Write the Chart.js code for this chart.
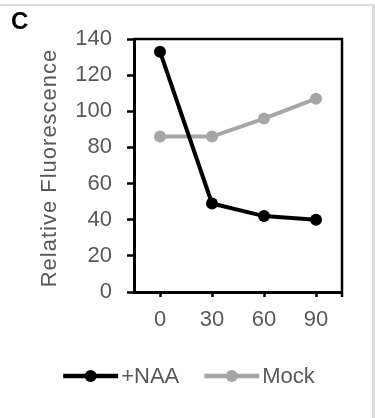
<!DOCTYPE html>
<html>
<head>
<meta charset="utf-8">
<script src="https://cdn.jsdelivr.net/npm/chart.js@4"></script>
<style>
  html, body { margin: 0; padding: 0; background: #fff; }
  #wrap { width: 375px; height: 418px; position: relative; }
</style>
</head>
<body>
<div id="wrap"><canvas id="chart" width="375" height="418"></canvas></div>
<script>
"use strict";

// time points (min)
const timePoints = ["0", "30", "60", "90"];
const naaValues = [133, 49, 42, 40];
const mockValues = [86, 86, 96, 107];
const yTicks = [0, 20, 40, 60, 80, 100, 120, 140];
const yTitle = "Relative Fluorescence";

const textGray = "#595959";
const seriesGray = "#a6a6a6";
const font = "Liberation Sans, Arial, sans-serif";

// frame, panel letter, axis title, box border and legend drawn by hand
const decorations = {
  id: "decorations",
  beforeDraw(chart) {
    const ctx = chart.ctx;
    ctx.save();
    ctx.fillStyle = "#dddddd";
    ctx.fillRect(0, 4, 375, 2);
    ctx.fillRect(372, 4, 3, 414);
    ctx.restore();
  },
  afterDraw(chart) {
    const ctx = chart.ctx;
    const a = chart.chartArea;
    ctx.save();

    // top + right of plot box
    ctx.strokeStyle = "#000";
    ctx.lineWidth = 2.5;
    ctx.beginPath();
    ctx.moveTo(a.left, a.top);
    ctx.lineTo(a.right, a.top);
    ctx.lineTo(a.right, a.bottom + 5);
    ctx.stroke();

    // panel letter
    ctx.fillStyle = "#000";
    ctx.font = "bold 24px " + font;
    ctx.textBaseline = "alphabetic";
    ctx.fillText("C", 11, 29);

    // y axis title (a bit spaced out, like the original)
    ctx.save();
    ctx.translate(50, 168);
    ctx.rotate(-Math.PI / 2);
    ctx.font = "22px " + font;
    ctx.letterSpacing = "1px";
    ctx.fillStyle = textGray;
    ctx.textAlign = "center";
    ctx.textBaseline = "middle";
    ctx.fillText(yTitle, 0, 0);
    ctx.restore();

    // legend
    ctx.font = "22px " + font;
    ctx.textBaseline = "middle";
    const sets = chart.data.datasets;
    const symW = 55, gapText = 3, gapItem = 25;
    let total = 0;
    sets.forEach((ds, i) => {
      total += symW + gapText + ctx.measureText(ds.label).width;
      if (i < sets.length - 1) total += gapItem;
    });
    let x = 189 - total / 2;
    const y = 376;
    sets.forEach(ds => {
      ctx.strokeStyle = ds.borderColor;
      ctx.lineWidth = 4.5;
      ctx.beginPath();
      ctx.moveTo(x, y);
      ctx.lineTo(x + symW, y);
      ctx.stroke();
      ctx.fillStyle = ds.borderColor;
      ctx.beginPath();
      ctx.arc(x + symW / 2, y, 6, 0, Math.PI * 2);
      ctx.fill();
      ctx.fillStyle = textGray;
      ctx.fillText(ds.label, x + symW + gapText, y + 1);
      x += symW + gapText + ctx.measureText(ds.label).width + gapItem;
    });
    ctx.restore();
  }
};

const ctx = document.getElementById("chart").getContext("2d");
new Chart(ctx, {
  type: "line",
  data: {
    labels: timePoints,
    datasets: [
      {
        label: "+NAA",
        data: naaValues,
        borderColor: "#000000",
        backgroundColor: "#000000",
        borderWidth: 4,
        pointRadius: 6,
        pointBorderWidth: 0,
        tension: 0,
      },
      {
        label: "Mock",
        data: mockValues,
        borderColor: seriesGray,
        backgroundColor: seriesGray,
        borderWidth: 4,
        pointRadius: 6,
        pointBorderWidth: 0,
        tension: 0,
      },
    ],
  },
  options: {
    responsive: false,
    animation: false,
    layout: { padding: { left: 0, right: 33, top: 39, bottom: 0 } },
    plugins: {
      legend: { display: false },
      tooltip: { enabled: false },
    },
    scales: {
      x: {
        type: "category",
        offset: true,
        afterFit: s => { s.height = 126; },
        grid: {
          offset: false,
          drawOnChartArea: false,
          tickLength: 5,
          tickColor: "#000",
          tickWidth: 2.5,
        },
        border: { color: "#000", width: 3 },
        ticks: { color: textGray, font: { family: font, size: 22 }, padding: 10 },
      },
      y: {
        min: 0,
        max: 140,
        afterFit: s => { s.width = 134; },
        afterBuildTicks: s => { s.ticks = yTicks.map(v => ({ value: v })); },
        grid: {
          drawOnChartArea: false,
          tickLength: 7,
          tickColor: "#000",
          tickWidth: 2.5,
        },
        border: { color: "#000", width: 3 },
        ticks: { color: textGray, font: { family: font, size: 22 }, padding: 15 },
      },
    },
  },
  plugins: [decorations],
});
</script>
</body>
</html>
